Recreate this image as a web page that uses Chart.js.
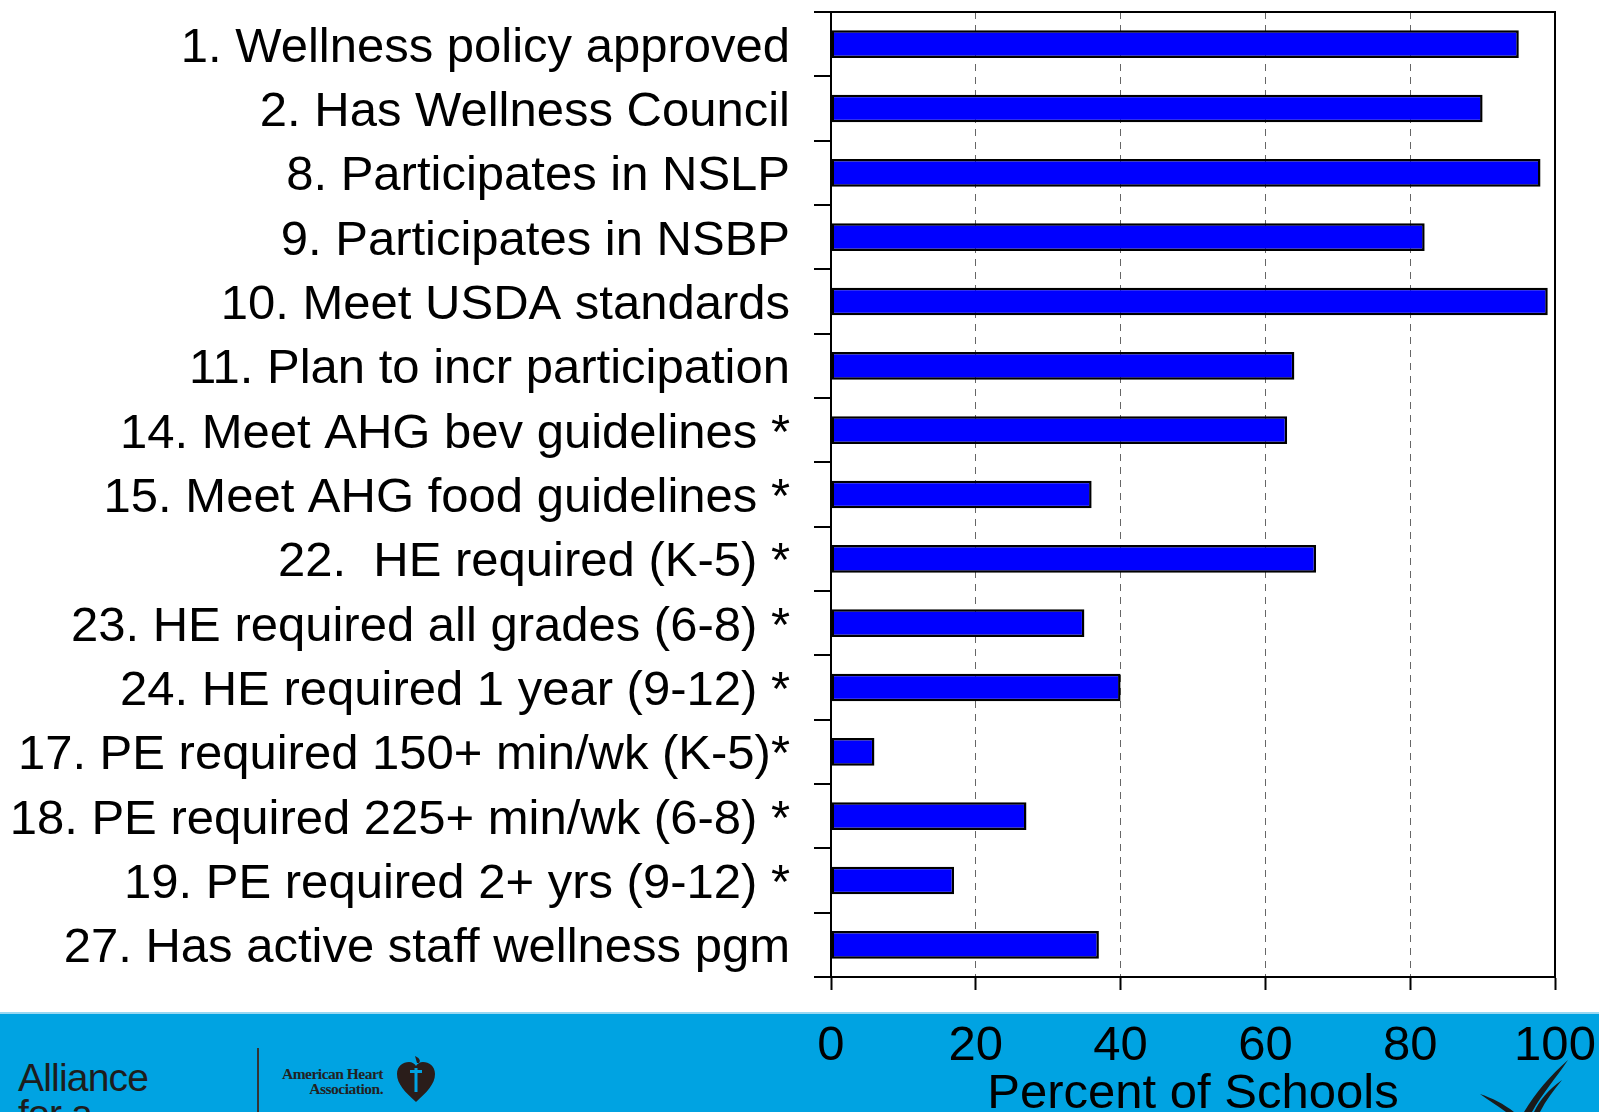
<!DOCTYPE html>
<html>
<head>
<meta charset="utf-8">
<script src="https://cdn.jsdelivr.net/npm/chart.js@4"></script>
<style>
  html, body { margin: 0; padding: 0; background: #fff; }
  #page { position: relative; width: 1599px; height: 1112px; overflow: hidden; font-family: "Liberation Sans", Arial, sans-serif; }
  #band { position: absolute; left: 0; top: 1012px; width: 1599px; height: 100px; background: #00a3e2; border-top: 2px solid #9ad8f2; box-sizing: border-box; }
  #chart { position: absolute; left: 0; top: 0; }
  .alliance { position: absolute; left: 18px; top: 1060px; font-size: 39px; line-height: 36px; color: #1d1d1d; letter-spacing: -0.8px; }
  .divider { position: absolute; left: 257px; top: 1048px; width: 2px; height: 64px; background: #333; }
  .aha { position: absolute; left: 282px; top: 1066px; font-family: "Liberation Serif", serif; font-size: 15.5px; line-height: 15px; color: #222; text-align: right; font-weight: bold; letter-spacing: -0.5px; }
  #heart { position: absolute; left: 395px; top: 1054px; }
  #swoosh { position: absolute; left: 1470px; top: 1058px; }
</style>
</head>
<body>
<div id="page">
  <div id="band"></div>
  <div class="alliance">Alliance<br>for a</div>
  <div class="divider"></div>
  <div class="aha">American Heart<br>Association.</div>
  <svg id="heart" width="42" height="50" viewBox="0 0 42 50">
    <path d="M21 48 C10 38 2 30 2 20 C2 12 8 8 14 8 C17 8 20 10 21 12 C22 10 25 8 28 8 C34 8 40 12 40 20 C40 30 32 38 21 48 Z" fill="#2a1d1a"/>
    <path d="M20 2 C24 4 26 6 24 9 L22 9 Z" fill="#2a1d1a"/>
    <rect x="19.5" y="14" width="3" height="24" fill="#00a3e2"/>
    <rect x="15" y="16" width="12" height="3" fill="#00a3e2"/>
  </svg>
  <svg id="swoosh" width="110" height="54" viewBox="0 0 110 54">
    <path d="M98 2 C80 18 66 34 54 54 L62 54 C72 36 86 20 98 2 Z" fill="#1b1b1b"/>
    <path d="M92 22 C78 32 70 42 64 54 L70 54 C76 42 84 32 92 22 Z" fill="#1b1b1b"/>
    <path d="M10 36 C22 40 34 46 44 54 L36 54 C28 48 18 42 10 36 Z" fill="#1b1b1b"/>
  </svg>
  <canvas id="chart" width="1599" height="1112"></canvas>
</div>
<script>
const categories = [
  "1. Wellness policy approved",
  "2. Has Wellness Council",
  "8. Participates in NSLP",
  "9. Participates in NSBP",
  "10. Meet USDA standards",
  "11. Plan to incr participation",
  "14. Meet AHG bev guidelines *",
  "15. Meet AHG food guidelines *",
  "22.  HE required (K-5) *",
  "23. HE required all grades (6-8) *",
  "24. HE required 1 year (9-12) *",
  "17. PE required 150+ min/wk (K-5)*",
  "18. PE required 225+ min/wk (6-8) *",
  "19. PE required 2+ yrs (9-12) *",
  "27. Has active staff wellness pgm",
];
const percentOfSchools = [95, 90, 98, 82, 99, 64, 63, 36, 67, 35, 40, 6, 27, 17, 37];
const xTicks = [0, 20, 40, 60, 80, 100];
const xTitle = "Percent of Schools";

const fontFamily = '"Liberation Sans", Arial, sans-serif';

// outer frame of the plot area (top and right edges included)
const frameBox = {
  id: "frameBox",
  afterDatasetsDraw(chart) {
    const { ctx, chartArea } = chart;
    ctx.save();
    ctx.strokeStyle = "#000";
    ctx.lineWidth = 2;
    ctx.strokeRect(chartArea.left, chartArea.top, chartArea.right - chartArea.left, chartArea.bottom - chartArea.top);
    ctx.restore();
  },
};

new Chart(document.getElementById("chart"), {
  type: "bar",
  data: {
    labels: categories,
    datasets: [{
      data: percentOfSchools,
      backgroundColor: "#0000ff",
      borderColor: "#000",
      borderWidth: 2.5,
      borderSkipped: false,
      barPercentage: 0.43,
      categoryPercentage: 1.0,
    }],
  },
  options: {
    indexAxis: "y",
    responsive: false,
    animation: false,
    layout: { padding: { left: 0, right: 44, top: 12, bottom: 0 } },
    plugins: { legend: { display: false }, tooltip: { enabled: false } },
    scales: {
      x: {
        min: 0,
        max: 100,
        afterBuildTicks: (scale) => { scale.ticks = xTicks.map((v) => ({ value: v })); },
        afterFit: (scale) => {
          scale.height = 135;
          scale.paddingLeft = 0;
          scale.paddingRight = 0;
        },
        border: { display: true, color: "#000", width: 2, dash: [7, 6] },
        grid: {
          color: (c) => (c.tick && (c.tick.value === 0 || c.tick.value === 100) ? "rgba(0,0,0,0)" : "#666"),
          lineWidth: 1,
          drawTicks: true,
          tickLength: 13,
          tickColor: "#000",
          tickWidth: 2,
          tickBorderDash: [],
        },
        ticks: {
          color: "#000",
          padding: 27,
          font: { family: fontFamily, size: 49 },
          maxRotation: 0,
        },
        title: {
          display: true,
          text: xTitle,
          color: "#000",
          font: { family: fontFamily, size: 49, lineHeight: 0.7 },
          padding: 0,
        },
      },
      y: {
        afterFit: (scale) => {
          scale.width = 831;
          scale.paddingTop = 0;
          scale.paddingBottom = 0;
        },
        border: { display: true, color: "#000", width: 2 },
        grid: {
          drawOnChartArea: false,
          drawTicks: true,
          tickLength: 17,
          color: "#000",
          lineWidth: 2,
        },
        ticks: {
          color: "#000",
          padding: 24,
          labelOffset: 4,
          font: { family: fontFamily, size: 49 },
        },
      },
    },
  },
  plugins: [frameBox],
});
</script>
</body>
</html>
